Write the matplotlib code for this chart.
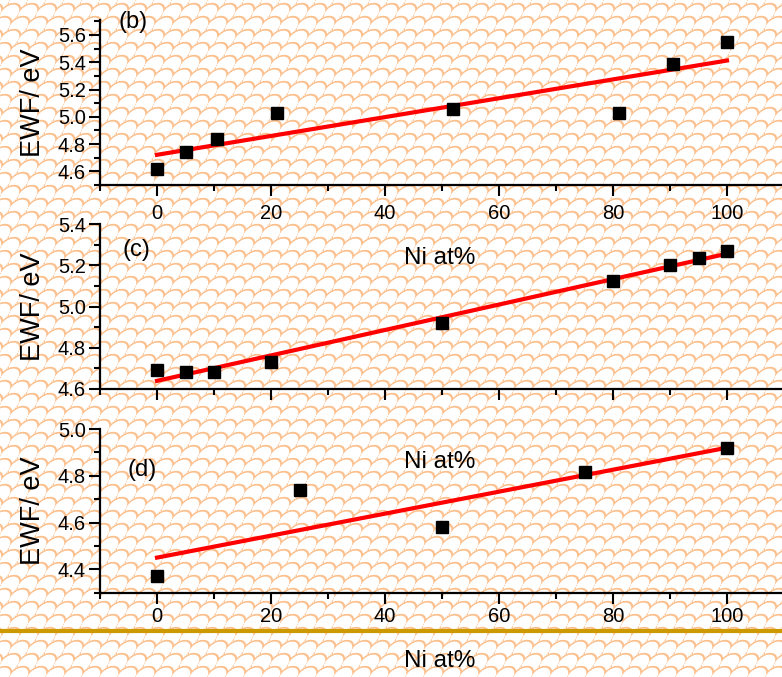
import numpy as np
import matplotlib
matplotlib.use('Agg')
import matplotlib.pyplot as plt
from matplotlib.ticker import MultipleLocator, FormatStrFormatter
from matplotlib.lines import Line2D

plt.rcParams['font.family'] = ['Liberation Sans', 'DejaVu Sans']

# electron work function vs Ni content, three alloy series
ni_b = [0, 5, 10.5, 21, 52, 81, 90.5, 100]
ewf_b = [4.62, 4.74, 4.84, 5.03, 5.06, 5.03, 5.39, 5.55]

ni_c = [0, 5, 10, 20, 50, 80, 90, 95, 100]
ewf_c = [4.69, 4.68, 4.68, 4.73, 4.92, 5.125, 5.20, 5.235, 5.27]

ni_d = [0, 25, 50, 75, 100]
ewf_d = [4.37, 4.74, 4.58, 4.815, 4.92]

panel_tags = ['(b)', '(c)', '(d)']
ylims = [(4.5, 5.71), (4.6, 5.4), (4.3, 5.0)]

W, H = 782, 677
fig = plt.figure(figsize=(W / 100, H / 100), dpi=100)

# light orange scale texture behind everything (slightly sheared rows)
yy, xx = np.mgrid[0:H, 0:W].astype(float)
xs = xx + 0.45 * yy
bg = np.ones((H, W))
cw, ch = 18.0, 13.0
R = cw / 2 + 0.8
for j in range(-1, int(H / ch) + 3):
    cy = j * ch
    off = (j % 2) * cw / 2 + 0.45 * cy
    dx = np.mod(xs - off + cw / 2, cw) - cw / 2
    d = np.hypot(dx, yy - cy)
    ink = np.clip(1.5 - np.abs(d - R) / 0.9, 0, 1)
    bg = np.where(d < R + 1.4, 1 - ink, bg)
line_rgb = np.array([252, 192, 142]) / 255.0
tex = bg[..., None] * 1.0 + (1 - bg[..., None]) * line_rgb
fig.figimage((tex * 255).astype(np.uint8), xo=0, yo=0, origin='upper', zorder=-10)

left = 100 / W
width = 684 / W
boxes = [(185, 165), (389, 165), (592.7, 163.7)]
tag_pos = [(0.048, 0.985), (0.053, 0.84), (0.061, 0.75)]
xlab_y = [-0.44, -0.44, -0.42]
tick_pad = [6, 6, 2.5]

series = [(ni_b, ewf_b), (ni_c, ewf_c), (ni_d, ewf_d)]
for k, (x, y) in enumerate(series):
    bot, h = boxes[k]
    ax = fig.add_axes([left, 1 - bot / H, width, h / H])
    ax.set_facecolor('none')
    x = np.array(x)
    y = np.array(y)
    slope, icpt = np.polyfit(x, y, 1)
    xf = np.array([x.min(), x.max()])
    ax.plot(xf, icpt + slope * xf, color='red', lw=3.0, zorder=2)
    ax.plot(x, y, 's', color='black', ms=8.5, zorder=3)

    ax.set_xlim(-10, 110)
    ax.set_ylim(*ylims[k])
    ax.xaxis.set_major_locator(MultipleLocator(20))
    ax.xaxis.set_minor_locator(MultipleLocator(10))
    ax.yaxis.set_major_locator(MultipleLocator(0.2))
    ax.yaxis.set_minor_locator(MultipleLocator(0.1))
    ax.yaxis.set_major_formatter(FormatStrFormatter('%.1f'))
    for s in ['top', 'right']:
        ax.spines[s].set_visible(False)
    for s in ['left', 'bottom']:
        ax.spines[s].set_linewidth(1.6)
    ax.tick_params(which='major', direction='out', length=8, width=1.5, labelsize=14.5)
    ax.tick_params(which='minor', direction='out', length=4.5, width=1.5)
    ax.tick_params(axis='x', which='major', pad=tick_pad[k])
    ax.tick_params(axis='y', which='major', pad=2)
    if k == 1:
        ax.tick_params(axis='x', labelbottom=False)

    ax.set_ylabel('EWF/ eV', fontsize=19.5, va='center')
    ax.yaxis.set_label_coords(-0.098, 0.5)
    ax.set_xlabel('Ni at%', fontsize=17.5)
    ax.xaxis.set_label_coords(0.497, xlab_y[k])
    ax.xaxis.label.set_va('center')
    ax.text(tag_pos[k][0], tag_pos[k][1], panel_tags[k], transform=ax.transAxes,
            ha='center', va='center', fontsize=17)

fig.add_artist(Line2D([0, 1], [1 - 631 / H, 1 - 631 / H], transform=fig.transFigure,
                      color='#CC9900', lw=3.0))

fig.savefig('out.png', dpi=100)
